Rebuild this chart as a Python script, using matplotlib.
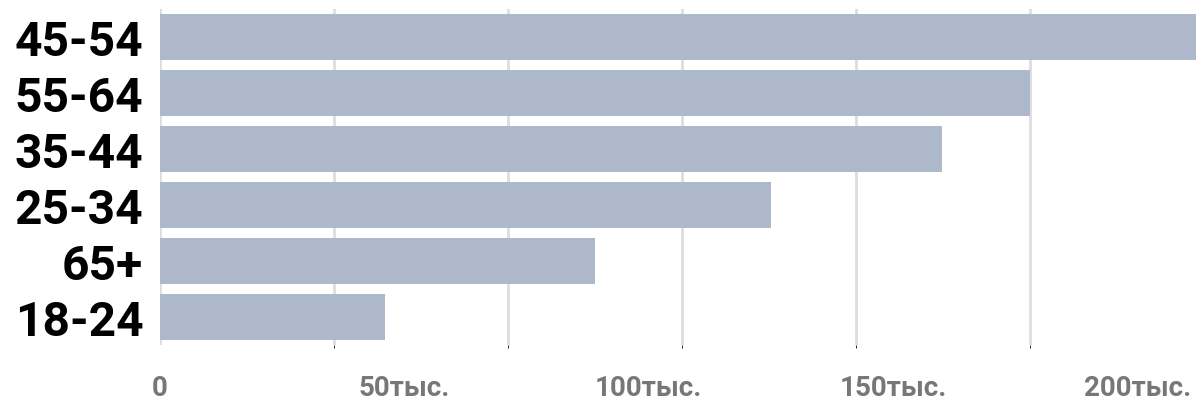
import numpy as np
import matplotlib.pyplot as plt
from matplotlib.ticker import MultipleLocator

plt.rcParams['font.family'] = ['Roboto', 'DejaVu Sans']

ages = ['45-54', '55-64', '35-44', '25-34', '65+', '18-24']
counts = [213, 178, 160, 125, 89, 46]  # тыс.
tick_vals = [0, 50, 100, 150, 200]
tick_text = ['0', '50тыс.', '100тыс.', '150тыс.', '200тыс.']
x_max = 212
grid_step = 35.6

fig = plt.figure(figsize=(11.96, 4.02), dpi=100)
ax = fig.add_axes([160/1196, 1 - 346/402, 1 - 160/1196, 336/402])

y = np.arange(len(ages))
ax.barh(y, counts, height=0.82, color='#adb8cb', zorder=2)
ax.set_ylim(5.5, -0.5)
ax.set_xlim(0, x_max)

ax.set_yticks(y)
ax.set_yticklabels(ages, fontsize=34.5, fontweight='bold', color='black')
ax.set_xticks(tick_vals)
ax.set_xticklabels(tick_text, fontsize=20, fontweight='bold', color='#777777')
ax.tick_params(axis='both', length=0)
ax.tick_params(axis='y', pad=12)
ax.tick_params(axis='x', pad=21)

ax.xaxis.set_minor_locator(MultipleLocator(grid_step))
ax.grid(False)
ax.grid(which='minor', axis='x', color='#dddddd', linewidth=2, zorder=0)
ax.axvline(0, color='#dddddd', linewidth=2, zorder=1)

for s in ax.spines.values():
    s.set_visible(False)

fig.savefig('out.png', dpi=100, facecolor='white')
